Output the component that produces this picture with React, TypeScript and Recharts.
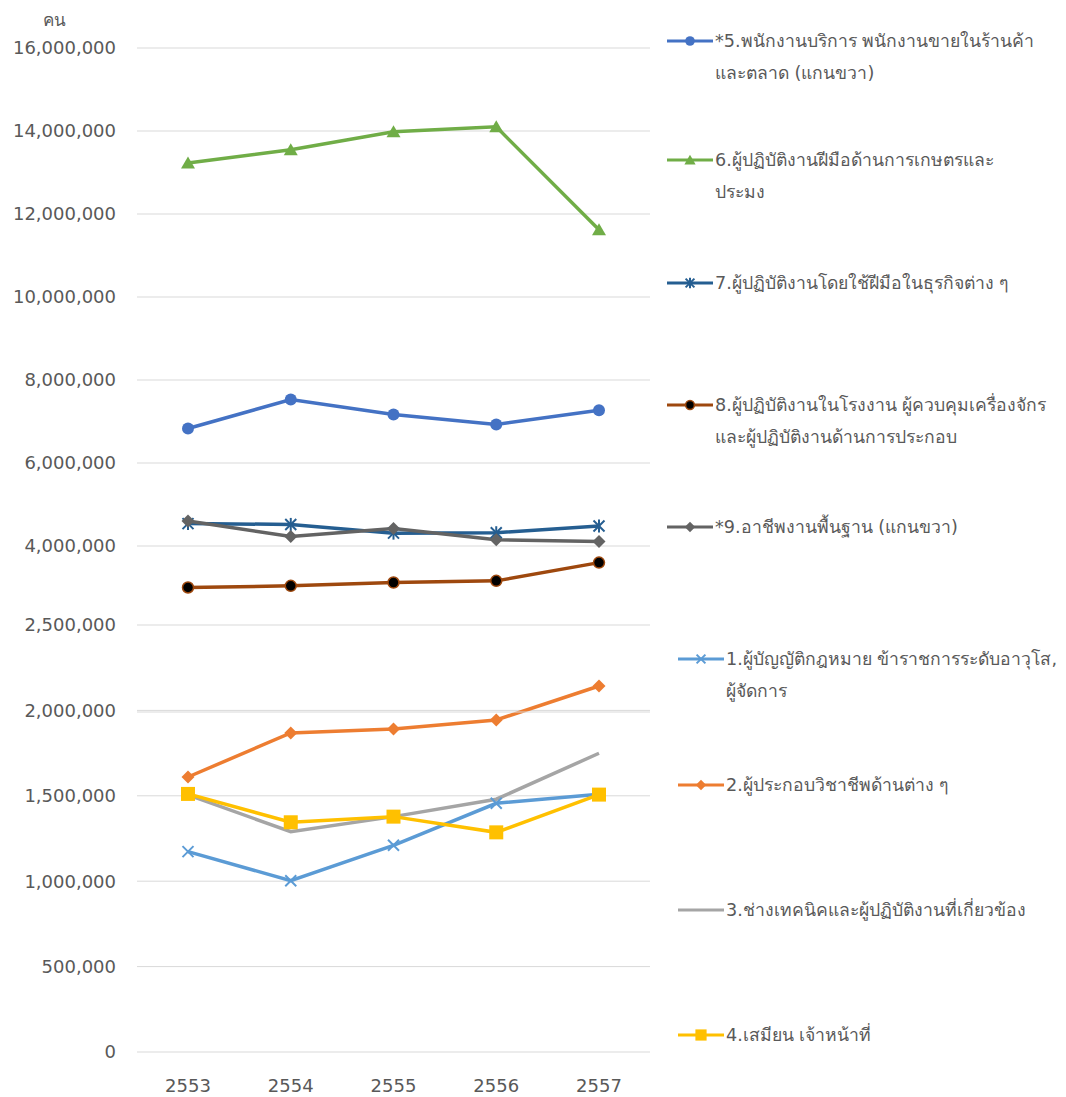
import React from 'react';
import { LineChart, Line, XAxis, YAxis, CartesianGrid } from 'recharts';

const years = ['2553', '2554', '2555', '2556', '2557'];

// lower panel (left axis, 0 - 2.5M)
const legislators = [1173000, 1003000, 1210000, 1456000, 1509000];
const professionals = [1610000, 1868000, 1891000, 1944000, 2143000];
const technicians = [1505000, 1290000, 1378000, 1480000, 1749000];
const clerks = [1511000, 1345000, 1378000, 1286000, 1507000];

// upper panel (0 - 16M)
const serviceWorkers = [6830000, 7530000, 7170000, 6930000, 7270000];
const agriWorkers = [13230000, 13550000, 13980000, 14100000, 11620000];
const craftWorkers = [4540000, 4520000, 4310000, 4320000, 4480000];
const plantOperators = [3000000, 3040000, 3120000, 3160000, 3600000];
const elementary = [4600000, 4230000, 4420000, 4150000, 4110000];

const lowerTicks = [0, 500000, 1000000, 1500000, 2000000, 2500000];
const upperTicks = [4000000, 6000000, 8000000, 10000000, 12000000, 14000000, 16000000];

const lowerData = years.map((year, i) => ({
  year,
  s1: legislators[i],
  s2: professionals[i],
  s3: technicians[i],
  s4: clerks[i],
}));

const upperData = years.map((year, i) => ({
  year,
  s5: serviceWorkers[i],
  s6: agriWorkers[i],
  s7: craftWorkers[i],
  s8: plantOperators[i],
  s9: elementary[i],
}));

type Shape = 'circle' | 'triangle' | 'star' | 'blackDot' | 'diamond' | 'x' | 'none' | 'square';

const series = [
  { key: 's5', color: '#4472C4', shape: 'circle' as Shape, lines: ['*5.พนักงานบริการ พนักงานขายในร้านค้า', 'และตลาด (แกนขวา)'], y: 41, lower: false },
  { key: 's6', color: '#70AD47', shape: 'triangle' as Shape, lines: ['6.ผู้ปฏิบัติงานฝีมือด้านการเกษตรและ', 'ประมง'], y: 160, lower: false },
  { key: 's7', color: '#255E91', shape: 'star' as Shape, lines: ['7.ผู้ปฏิบัติงานโดยใช้ฝีมือในธุรกิจต่าง ๆ'], y: 283, lower: false },
  { key: 's8', color: '#9E480E', shape: 'blackDot' as Shape, lines: ['8.ผู้ปฏิบัติงานในโรงงาน  ผู้ควบคุมเครื่องจักร', 'และผู้ปฏิบัติงานด้านการประกอบ'], y: 405, lower: false },
  { key: 's9', color: '#636363', shape: 'diamond' as Shape, lines: ['*9.อาชีพงานพื้นฐาน (แกนขวา)'], y: 527, lower: false },
  { key: 's1', color: '#5B9BD5', shape: 'x' as Shape, lines: ['1.ผู้บัญญัติกฎหมาย ข้าราชการระดับอาวุโส,', 'ผู้จัดการ'], y: 659, lower: true },
  { key: 's2', color: '#ED7D31', shape: 'diamond' as Shape, lines: ['2.ผู้ประกอบวิชาชีพด้านต่าง ๆ'], y: 785, lower: true },
  { key: 's3', color: '#A5A5A5', shape: 'none' as Shape, lines: ['3.ช่างเทคนิคและผู้ปฏิบัติงานที่เกี่ยวข้อง'], y: 910, lower: true },
  { key: 's4', color: '#FFC000', shape: 'square' as Shape, lines: ['4.เสมียน เจ้าหน้าที่'], y: 1035, lower: true },
];

const FONT = '"DejaVu Sans", "Noto Sans", sans-serif';
const TEXT = '#595959';

function Marker({ shape, cx, cy, color, s = 1 }: { shape: Shape; cx: number; cy: number; color: string; s?: number }) {
  switch (shape) {
    case 'circle':
      return <circle cx={cx} cy={cy} r={6 * s} fill={color} />;
    case 'blackDot':
      return <circle cx={cx} cy={cy} r={5.5 * s} fill="#000" stroke={color} strokeWidth={1.5} />;
    case 'triangle':
      return <polygon points={`${cx},${cy - 6.5 * s} ${cx + 7 * s},${cy + 5.5 * s} ${cx - 7 * s},${cy + 5.5 * s}`} fill={color} />;
    case 'diamond':
      return <polygon points={`${cx},${cy - 6.5 * s} ${cx + 6.5 * s},${cy} ${cx},${cy + 6.5 * s} ${cx - 6.5 * s},${cy}`} fill={color} />;
    case 'square':
      return <rect x={cx - 7 * s} y={cy - 7 * s} width={14 * s} height={14 * s} fill={color} />;
    case 'x':
      return (
        <g stroke={color} strokeWidth={2}>
          <line x1={cx - 5.5 * s} y1={cy - 5.5 * s} x2={cx + 5.5 * s} y2={cy + 5.5 * s} />
          <line x1={cx - 5.5 * s} y1={cy + 5.5 * s} x2={cx + 5.5 * s} y2={cy - 5.5 * s} />
        </g>
      );
    case 'star':
      return (
        <g stroke={color} strokeWidth={2}>
          <line x1={cx - 5.5 * s} y1={cy - 5.5 * s} x2={cx + 5.5 * s} y2={cy + 5.5 * s} />
          <line x1={cx - 5.5 * s} y1={cy + 5.5 * s} x2={cx + 5.5 * s} y2={cy - 5.5 * s} />
          <line x1={cx} y1={cy - 6.5 * s} x2={cx} y2={cy + 6.5 * s} />
        </g>
      );
    default:
      return null;
  }
}

const makeDot = (shape: Shape, color: string) => (props: any) => {
  const { cx, cy, index } = props;
  if (shape === 'none' || cx == null || cy == null) return <g key={`d-${index}`} />;
  return (
    <g key={`d-${index}`}>
      <Marker shape={shape} cx={cx} cy={cy} color={color} />
    </g>
  );
};

const fmt = (v: number) => v.toLocaleString('en-US');

const tickStyle = { fontSize: 18, fill: TEXT, fontFamily: FONT };

function LegendItem({ item }: { item: (typeof series)[number] }) {
  const left = item.lower ? 678 : 667;
  return (
    <div style={{ position: 'absolute', left, top: item.y - 16, display: 'flex', alignItems: 'flex-start' }}>
      <svg width={48} height={32} style={{ flexShrink: 0 }}>
        <line x1={0} y1={16} x2={46} y2={16} stroke={item.color} strokeWidth={3} />
        <Marker shape={item.shape} cx={23} cy={16} color={item.color} s={0.8} />
      </svg>
      <div style={{ fontSize: 17.6, lineHeight: '32px', color: TEXT, whiteSpace: 'nowrap' }}>
        {item.lines.map((l, i) => (
          <div key={i}>{l}</div>
        ))}
      </div>
    </div>
  );
}

export default function App() {
  const lowerSeries = series.filter((s) => s.lower).sort((a, b) => a.key.localeCompare(b.key));
  const upperSeries = series.filter((s) => !s.lower);

  return (
    <div style={{ position: 'absolute', left: 0, top: 0, width: 1066, height: 1097, background: '#fff', fontFamily: FONT }}>
      <div style={{ position: 'absolute', left: 0, top: 0 }}>
        <LineChart width={660} height={1097} data={lowerData} margin={{ top: 625, right: 10, bottom: 0, left: 0 }}>
          <CartesianGrid vertical={false} stroke="#d9d9d9" />
          <XAxis
            dataKey="year"
            padding={{ left: 51, right: 51 }}
            axisLine={false}
            tickLine={false}
            height={45}
            tickMargin={21}
            tick={tickStyle}
          />
          <YAxis
            domain={[0, 2500000]}
            ticks={lowerTicks}
            width={137}
            axisLine={false}
            tickLine={false}
            tickMargin={15}
            tickFormatter={fmt}
            tick={tickStyle}
          />
          {lowerSeries.map((s) => (
            <Line
              key={s.key}
              dataKey={s.key}
              name={s.lines.join(' ')}
              stroke={s.color}
              strokeWidth={3.5}
              dot={makeDot(s.shape, s.color)}
              activeDot={false}
              isAnimationActive={false}
            />
          ))}
        </LineChart>
      </div>
      <div style={{ position: 'absolute', left: 0, top: 0 }}>
        <LineChart width={660} height={1097} data={upperData} margin={{ top: 48, right: 10, bottom: 385, left: 0 }}>
          <CartesianGrid vertical={false} stroke="#d9d9d9" />
          <XAxis dataKey="year" padding={{ left: 51, right: 51 }} hide />
          <YAxis
            domain={[0, 16000000]}
            ticks={upperTicks}
            width={137}
            axisLine={false}
            tickLine={false}
            tickMargin={15}
            tickFormatter={fmt}
            tick={tickStyle}
          />
          {upperSeries.map((s) => (
            <Line
              key={s.key}
              dataKey={s.key}
              name={s.lines.join(' ')}
              stroke={s.color}
              strokeWidth={3.5}
              dot={makeDot(s.shape, s.color)}
              activeDot={false}
              isAnimationActive={false}
            />
          ))}
        </LineChart>
      </div>
      <div style={{ position: 'absolute', left: 43, top: 8, fontSize: 17, color: TEXT, lineHeight: '24px' }}>คน</div>
      {series.map((s) => (
        <LegendItem key={s.key} item={s} />
      ))}
    </div>
  );
}
